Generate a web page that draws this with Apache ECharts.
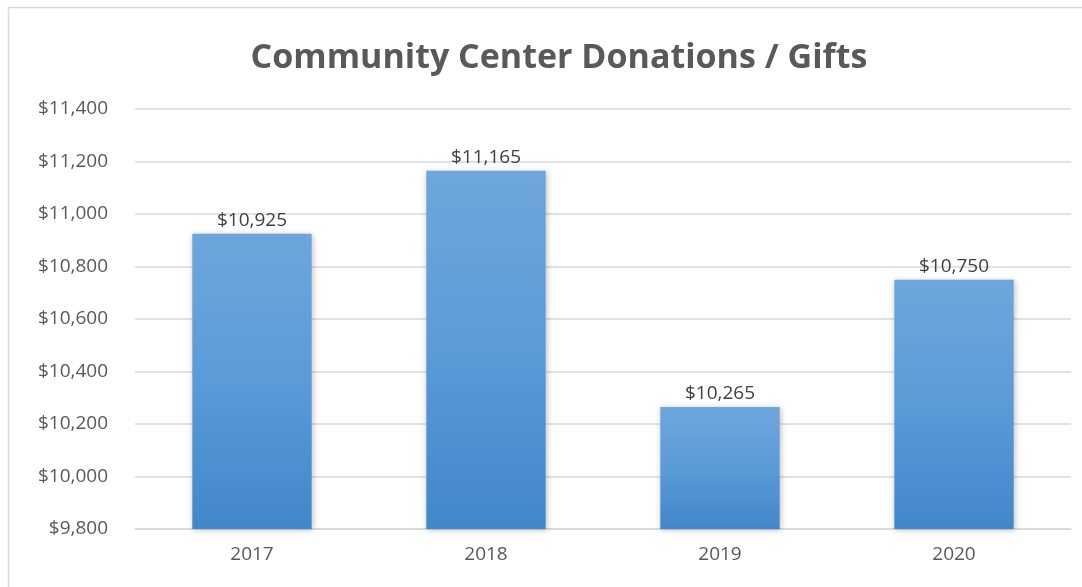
<!DOCTYPE html>
<html>
<head>
<meta charset="utf-8">
<script src="https://cdn.jsdelivr.net/npm/echarts@6/dist/echarts.min.js"></script>
<style>
  html, body { margin: 0; padding: 0; background: #fff; }
  #chart { width: 1082px; height: 587px; }
</style>
</head>
<body>
<div id="chart"></div>
<script>
// donations by year
const years = ['2017', '2018', '2019', '2020'];
const donations = [10925, 11165, 10265, 10750];
const yMin = 9800;
const yMax = 11400;
const yStep = 200;

const money = v => '$' + v.toLocaleString('en-US');

const chart = echarts.init(document.getElementById('chart'));
chart.setOption({
    backgroundColor: '#fff',
    title: {
        text: 'Community Center Donations / Gifts',
        left: 554,
        textAlign: 'center',
        top: 36,
        textStyle: {
            fontFamily: 'Open Sans',
            fontSize: 34,
            fontWeight: 'bold',
            color: '#595959'
        }
    },
    graphic: [{
        type: 'rect',
        shape: { x: 8.5, y: 7.5, width: 1200, height: 700 },
        style: { fill: 'none', stroke: '#d9d9d9', lineWidth: 1.5 },
        silent: true
    }],
    grid: { left: 135, right: 11, top: 109, bottom: 58 },
    xAxis: {
        type: 'category',
        data: years,
        axisTick: { show: false },
        axisLine: { lineStyle: { color: '#d9d9d9', width: 1.5 } },
        axisLabel: {
            color: '#595959',
            fontFamily: 'Open Sans',
            fontSize: 19,
            margin: 16
        }
    },
    yAxis: {
        type: 'value',
        min: yMin,
        max: yMax,
        interval: yStep,
        axisLine: { show: false },
        axisTick: { show: false },
        splitLine: { lineStyle: { color: '#d9d9d9', width: 1.5 } },
        axisLabel: {
            color: '#595959',
            fontFamily: 'Open Sans',
            fontSize: 19,
            margin: 27,
            formatter: money
        }
    },
    series: [{
        type: 'bar',
        data: donations,
        barCategoryGap: '49%',
        itemStyle: {
            color: new echarts.graphic.LinearGradient(0, 0, 0, 1, [
                { offset: 0, color: '#6ea6dc' },
                { offset: 0.5, color: '#5a9bd8' },
                { offset: 1, color: '#4287ca' }
            ]),
            shadowColor: 'rgba(0,0,0,0.25)',
            shadowBlur: 6,
            shadowOffsetX: 1,
            shadowOffsetY: 1
        },
        label: {
            show: true,
            position: 'top',
            distance: 4,
            color: '#404040',
            fontFamily: 'Open Sans',
            fontSize: 19,
            formatter: p => money(p.value)
        }
    }]
});
</script>
</body>
</html>
